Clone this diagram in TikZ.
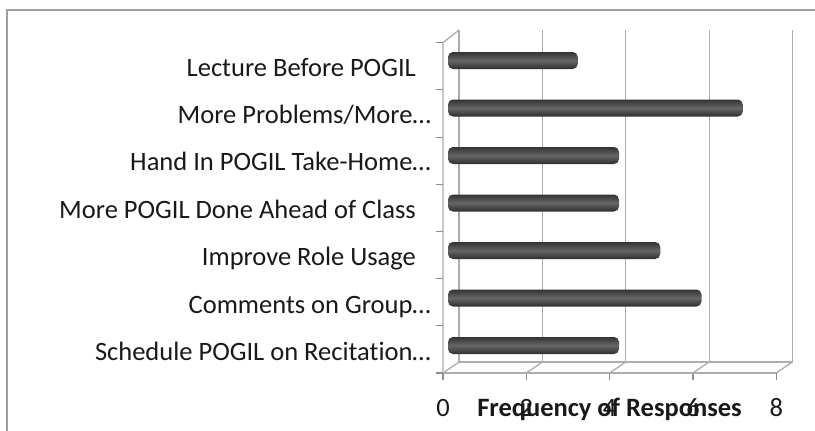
\documentclass[tikz,border=0pt]{standalone}
\usepackage{fontspec}
\setmainfont[Ligatures={NoCommon}]{Carlito}
\begin{document}
\begin{tikzpicture}[x=1pt,y=-1pt,
  grid/.style={draw=black!32, line width=1.3pt},
  frame/.style={draw=black!38, line width=1.6pt},
  tickmark/.style={draw=black!45, line width=1.1pt},
  lab/.style={anchor=base east, inner sep=0pt, font=\fontsize{26.5}{30}\selectfont, text=black!90},
  num/.style={anchor=base, inner sep=0pt, font=\fontsize{26.5}{30}\selectfont, text=black!90},
  ttl/.style={anchor=base, inner sep=0pt, font=\fontsize{26.5}{30}\selectfont\bfseries, text=black!90},
  barshape/.style={rounded corners=5pt, top color=black!80, bottom color=black!82, middle color=black!60}]
\useasboundingbox (0,0) rectangle (815,431);
\fill[white] (0,0) rectangle (815,431);
% outer frame
\draw[frame] (7,431) -- (7,10) -- (815,10);
% back wall gridlines
\foreach \gx in {459,542.5,625.8,709.2,792.5} {
  \draw[grid] (\gx,30) -- (\gx,362);
}
% floor
\draw[grid] (459,362) -- (792.5,362);
\foreach \fx in {443,526.3,609.7,693,776.3} {
  \draw[grid] (\fx,373) -- ({\fx+16},362);
  \draw[tickmark] (\fx,373) -- (\fx,380);
}
\draw[grid] (443,373) -- (776.3,373);
% left wall
\draw[grid] (443,373) -- (443,42.7) -- (459,30);
\foreach \k in {0,...,7} {
  \draw[tickmark] (436,{42.7+47.19*\k}) -- (443,{42.7+47.19*\k});
}
% bars
\foreach \v [count=\i from 0] in {3,7,4,4,5,6,4} {
  \pgfmathsetmacro\yc{60.5+47.5*\i}
  \pgfmathsetmacro\xe{454+41.25*\v}
  \shade[barshape] (448,{\yc-8.5}) rectangle (\xe,{\yc+8.5});
}
% category labels
\node[lab] (l1) at (416,76) {Lecture Before POGIL};
\node[lab] (l2) at (431,123.4) {More Problems/More…};
\node[lab] (l3) at (431,170.8) {Hand In POGIL Take-Home…};
\node[lab] (l4) at (416,218.2) {More POGIL Done Ahead of Class};
\node[lab] (l5) at (416,265.6) {Improve Role Usage};
\node[lab] (l6) at (431,313) {Comments on Group…};
\node[lab] (l7) at (431,360.4) {Schedule POGIL on Recitation…};
% axis numbers
\node[num] (n0) at (443,416) {0};
\node[num] (n2) at (526.3,416) {2};
\node[num] (n4) at (609.7,416) {4};
\node[num] (n6) at (693,416) {6};
\node[num] (n8) at (776.3,416) {8};
% axis title
\node[ttl] (title) at (609.5,416) {Frequency of Responses};
\end{tikzpicture}
\end{document}
